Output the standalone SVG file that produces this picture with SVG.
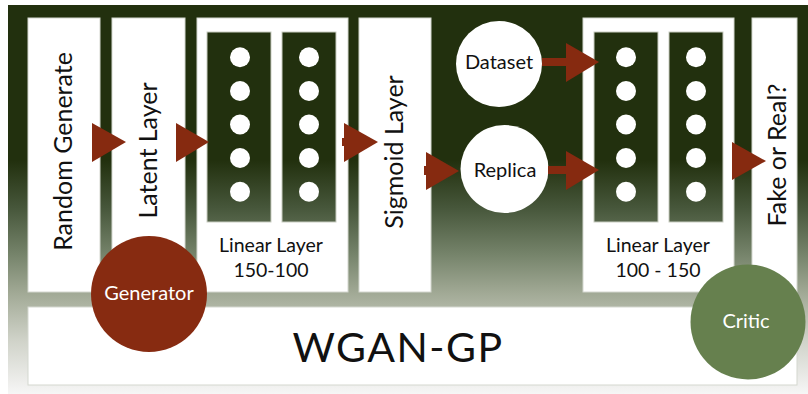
<svg xmlns="http://www.w3.org/2000/svg" width="808" height="394" viewBox="0 0 808 394">
  <defs>
    <linearGradient id="bg" gradientUnits="userSpaceOnUse" x1="0" y1="5" x2="0" y2="394">
      <stop offset="0" stop-color="#22300e"/>
      <stop offset="0.40" stop-color="#22300e"/>
      <stop offset="0.52" stop-color="#46563a"/>
      <stop offset="0.64" stop-color="#75836a"/>
      <stop offset="0.74" stop-color="#a1a995"/>
      <stop offset="0.86" stop-color="#cfd2c8"/>
      <stop offset="0.97" stop-color="#eeeeec"/>
      <stop offset="1" stop-color="#f6f6f6"/>
    </linearGradient>
    <style>
      .box { fill: #ffffff; stroke: #d4d7cf; stroke-width: 1; }
      .col { fill: url(#bg); stroke: #c9cdc2; stroke-width: 1; }
      .dot { fill: #ffffff; }
      .arrow { fill: #862a10; }
      .t { font-family: Lato, "Open Sans", sans-serif; fill: #111111; }
      .v { font-size: 25px; text-anchor: middle; }
      .lbl { font-size: 19.5px; text-anchor: middle; }
      .cn { font-size: 20px; text-anchor: middle; }
      .w { fill: #ffffff; }
    </style>
  </defs>

  <!-- backdrop -->
  <rect x="8" y="5" width="800" height="389" fill="url(#bg)"/>

  <!-- title bar -->
  <g id="title">
    <rect class="box" x="28" y="307" width="769" height="78"/>
    <text class="t" x="398" y="362" font-size="41" text-anchor="middle" letter-spacing="1.5">WGAN-GP</text>
  </g>

  <!-- generator side -->
  <g id="random-generate">
    <rect class="box" x="28" y="18" width="72" height="274"/>
    <text class="t v" transform="translate(72,151.5) rotate(-90)">Random Generate</text>
  </g>
  <g id="latent-layer">
    <rect class="box" x="112" y="18" width="73" height="274"/>
    <text class="t v" transform="translate(157,150.5) rotate(-90)">Latent Layer</text>
  </g>
  <g id="linear-gen">
    <rect class="box" x="197" y="18" width="151" height="274"/>
    <rect class="col" x="207" y="32" width="64" height="190"/>
    <rect class="col" x="282" y="32" width="54" height="190"/>
    <g class="dot">
      <circle cx="240" cy="57.3" r="10"/><circle cx="240" cy="91" r="10"/><circle cx="240" cy="124.5" r="10"/><circle cx="240" cy="158" r="10"/><circle cx="240" cy="191.7" r="10"/>
      <circle cx="309" cy="57.3" r="10"/><circle cx="309" cy="91" r="10"/><circle cx="309" cy="124.5" r="10"/><circle cx="309" cy="158" r="10"/><circle cx="309" cy="191.7" r="10"/>
    </g>
    <text class="t lbl" x="271" y="252">Linear Layer</text>
    <text class="t lbl" x="271" y="277">150-100</text>
  </g>
  <g id="sigmoid-layer">
    <rect class="box" x="359" y="18" width="72" height="274"/>
    <text class="t v" transform="translate(403,152) rotate(-90)">Sigmoid Layer</text>
  </g>

  <!-- critic side -->
  <g id="dataset">
    <circle cx="499" cy="64" r="43" fill="#ffffff"/>
    <text class="t cn" x="499" y="69">Dataset</text>
  </g>
  <g id="replica">
    <circle cx="504.5" cy="169" r="44" fill="#ffffff"/>
    <text class="t cn" x="505" y="177">Replica</text>
  </g>
  <g id="linear-critic">
    <rect class="box" x="583" y="18" width="151" height="274"/>
    <rect class="col" x="594" y="32" width="64" height="190"/>
    <rect class="col" x="669" y="32" width="54" height="190"/>
    <g class="dot">
      <circle cx="626" cy="57.3" r="10"/><circle cx="626" cy="91" r="10"/><circle cx="626" cy="124.5" r="10"/><circle cx="626" cy="158" r="10"/><circle cx="626" cy="191.7" r="10"/>
      <circle cx="696" cy="57.3" r="10"/><circle cx="696" cy="91" r="10"/><circle cx="696" cy="124.5" r="10"/><circle cx="696" cy="158" r="10"/><circle cx="696" cy="191.7" r="10"/>
    </g>
    <text class="t lbl" x="658" y="252">Linear Layer</text>
    <text class="t lbl" x="658" y="277">100 - 150</text>
  </g>
  <g id="fake-or-real">
    <rect class="box" x="752" y="18" width="45" height="274"/>
    <text class="t v" transform="translate(786,155) rotate(-90)">Fake or Real?</text>
  </g>

  <!-- flow arrows -->
  <g id="connectors" class="arrow">
    <polygon points="92,123 126,142 92,162"/>
    <polygon points="176,123 209,142 176,162"/>
    <rect x="342" y="138" width="4" height="8"/>
    <polygon points="344,123 378,142 344,162"/>
    <rect x="424" y="166" width="4" height="9"/>
    <polygon points="426,152 459,171 426,190"/>
    <rect x="542" y="58" width="26" height="8"/>
    <polygon points="566,43 599,62 566,82"/>
    <rect x="548" y="166" width="20" height="8"/>
    <polygon points="566,151 599,170 566,190"/>
    <polygon points="732,142 766,161 732,180"/>
  </g>

  <!-- role badges -->
  <g id="generator">
    <circle cx="149" cy="294" r="58" fill="#872b11"/>
    <text class="t cn w" x="149" y="300">Generator</text>
  </g>
  <g id="critic">
    <circle cx="748" cy="322" r="57.5" fill="#66804e"/>
    <text class="t cn w" x="746" y="328">Critic</text>
  </g>
</svg>
